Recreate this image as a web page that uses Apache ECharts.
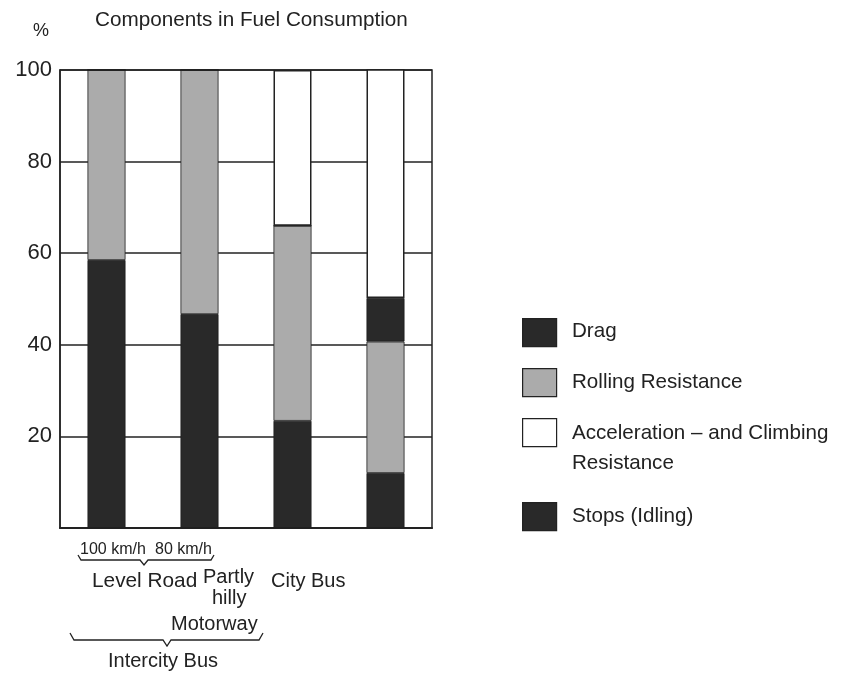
<!DOCTYPE html>
<html><head><meta charset="utf-8">
<script src="https://cdn.jsdelivr.net/npm/echarts@6/dist/echarts.min.js"></script>
<style>html,body{margin:0;padding:0;background:#fff}#c{width:860px;height:674px}</style>
</head><body><div id="c"></div>
<script>
const categories = ['Level Road 100 km/h', 'Level Road 80 km/h', 'Partly hilly Motorway', 'City Bus'];
const drag = [58.5, 46.7, 23.4, 12];
const rolling = [41.5, 53.3, 42.6, 28.7];
const stops = [0, 0, 0, 9.5];
const accel = [0, 0, 34, 50];
const yTicks = [20, 40, 60, 80, 100];
const legendNames = ['Drag', 'Rolling Resistance', 'Acceleration – and Climbing\nResistance', 'Stops (Idling)'];

const FONT = 'Liberation Sans, Arial, sans-serif';
const DARK = '#292929', GRAY = '#ababab', EDGE = '#1e1e1e';
const chart = echarts.init(document.getElementById('c'));

function bar(name, data, color, border) {
  return {
    name, type: 'bar', stack: 'a', data, barWidth: 38,
    itemStyle: { color, borderColor: border || EDGE, borderWidth: border ? 1.5 : 0.8 }
  };
}
const legendColors = [DARK, GRAY, '#ffffff', DARK];
const legendY = [318, 368, 418, 502];
const legendTextY = [331, 382, 448, 516];
const graphics = [];
legendNames.forEach((n, i) => {
  graphics.push({ type: 'rect', left: 522, top: legendY[i], shape: { width: 34, height: 28 },
    style: { fill: legendColors[i], stroke: '#222', lineWidth: 1.2 } });
  graphics.push({ type: 'text', x: 572, y: legendTextY[i],
    style: { text: n, font: '20.6px ' + FONT, fill: '#222', lineHeight: 30, verticalAlign: 'middle' } });
});
const texts = [
  ['Components in Fuel Consumption', 95, 20, 20.7],
  ['%', 33, 31, 18],
  ['100 km/h', 80, 550, 16],
  ['80 km/h', 155, 550, 16],
  ['Level Road', 92, 581, 20.8],
  ['Partly', 203, 577],
  ['hilly', 212, 598],
  ['City Bus', 271, 581],
  ['Motorway', 171, 624],
  ['Intercity Bus', 108, 661]
];
texts.forEach(t => graphics.push({ type: 'text', x: t[1], y: t[2],
  style: { text: t[0], font: (t[3] || 20) + 'px ' + FONT, fill: '#222', verticalAlign: 'middle' } }));
// braces
graphics.push({ type: 'polyline', shape: { points: [[78, 555], [81, 560], [140, 560], [144, 565], [148, 560], [211, 560], [214, 555]] },
  style: { stroke: '#222', lineWidth: 1.3, fill: null } });
graphics.push({ type: 'polyline', shape: { points: [[70, 633], [74, 640], [163, 640], [167, 646], [171, 640], [259, 640], [263, 633]] },
  style: { stroke: '#222', lineWidth: 1.3, fill: null } });

chart.setOption({
  animation: false,
  backgroundColor: '#fff',
  grid: { left: 60, right: 428, top: 70, bottom: 146, show: true, borderColor: '#222', borderWidth: 1.5 },
  xAxis: {
    type: 'category', data: categories, boundaryGap: true,
    axisLine: { lineStyle: { color: '#222', width: 2 } },
    axisTick: { show: false }, axisLabel: { show: false }
  },
  yAxis: {
    type: 'value', min: 0, max: 100, interval: 20,
    axisLine: { show: true, lineStyle: { color: '#222', width: 1.5 } },
    axisTick: { show: false },
    axisLabel: { fontFamily: FONT, fontSize: 22, color: '#222', margin: 8,
      formatter: v => yTicks.includes(v) ? String(v) : '' },
    splitLine: { lineStyle: { color: '#222', width: 1.5 } }
  },
  series: [
    bar('Drag', drag, DARK),
    bar('Rolling Resistance', rolling, GRAY),
    bar('Stops (Idling)', stops, DARK),
    bar('Acceleration – and Climbing Resistance', accel, '#ffffff', '#222')
  ],
  graphic: graphics
});
</script></body></html>
